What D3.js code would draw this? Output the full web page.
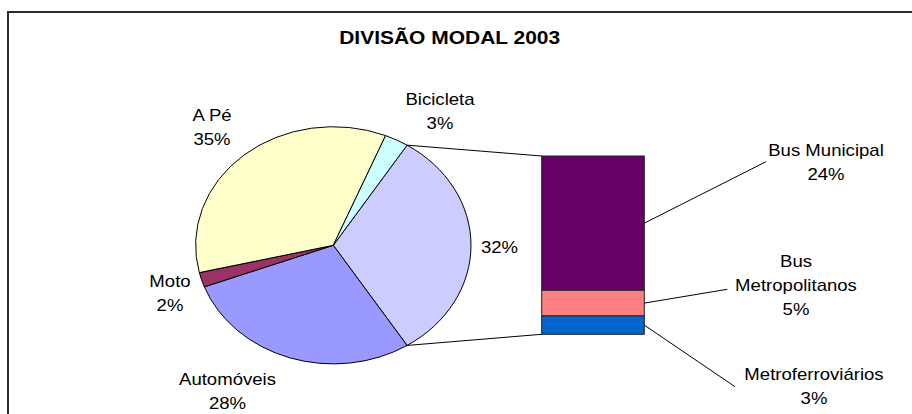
<!DOCTYPE html>
<html lang="pt">
<head>
<meta charset="UTF-8">
<title>Divisão modal 2003</title>
<style>
  * { margin: 0; padding: 0; }
  html, body { width: 912px; height: 414px; overflow: hidden; background: #fff; }
  text { font-family: "Liberation Sans", Arial, sans-serif; fill: #000; }
</style>
</head>
<body>
<script src="https://cdn.jsdelivr.net/npm/d3@7"></script>
<script>
  // dados do gráfico (valores em %)
  const pieNames  = ['Outros', 'Automóveis', 'Moto', 'A Pé', 'Bicicleta']
  const pieValues = [32, 28.3, 2.0, 34.9, 2.8]
  const pieColors = ['#CCCCFF', '#9999FF', '#993366', '#FFFFCC', '#CCFFFF']

  const barNames  = ['Bus Municipal', 'Bus Metropolitanos', 'Metroferroviários']
  const barValues = [24.1, 4.6, 3.3]
  const barColors = ['#660066', '#FF8080', '#0066CC']

  const title = 'DIVISÃO MODAL 2003'

  // layout
  const W = 912, H = 414
  const cx = 333.3, cy = 245.3, rx = 137.7, ry = 118.6
  const stretch = rx / ry   // o gráfico original está esticado na horizontal
  const bar = { x0: 541.7, x1: 644.3, top: 156, bottom: 334.3 }
  const lineH = 24

  // onde fica cada rótulo (centro do bloco de texto)
  const pieLabelPos = {
    'Outros':     [499.5, 247.3, false],
    'Automóveis': [227.5, 391, true],
    'Moto':       [170, 293.3, true],
    'A Pé':       [212, 126.7, true],
    'Bicicleta':  [440, 111, true]
  }
  const barLabelPos = {
    'Bus Municipal':      { xy: [826, 162], lines: ['Bus Municipal'], lead: [766, 161.7] },
    'Bus Metropolitanos': { xy: [796, 285.5], lines: ['Bus', 'Metropolitanos'], lead: [727.3, 289.3] },
    'Metroferroviários':  { xy: [814, 386], lines: ['Metroferroviários'], lead: [735, 386.7] }
  }

  const pct = v => Math.round(v) + '%'

  const svg = d3.select('body').append('svg').attr('width', W).attr('height', H)

  // moldura
  svg.append('rect').attr('x', 8).attr('y', 12).attr('width', W + 20).attr('height', H + 20)
    .attr('fill', '#fff').attr('stroke', '#2b2b2b').attr('stroke-width', 2)

  svg.append('text').attr('x', 449.7).attr('y', 43.5).attr('text-anchor', 'middle')
    .style('font-size', '18px').style('font-weight', 'bold')
    .attr('textLength', 221).attr('lengthAdjust', 'spacingAndGlyphs')
    .text(title)

  // pizza
  const total = d3.sum(pieValues)
  const start = Math.PI / 2 - (pieValues[0] / total) * Math.PI
  const pie = d3.pie().sort(null).startAngle(start).endAngle(start + 2 * Math.PI)
  const arcs = pie(pieValues)
  const arc = d3.arc().innerRadius(0).outerRadius(ry)

  const gPie = svg.append('g').attr('transform', `translate(${cx},${cy}) scale(${stretch},1)`)
  gPie.selectAll('path').data(arcs).join('path')
    .attr('d', arc)
    .attr('fill', (d, i) => pieColors[i])
    .attr('stroke', '#000').attr('stroke-width', 1)
    .attr('vector-effect', 'non-scaling-stroke')

  // pontos da borda da fatia agregada
  const edge = a => [cx + rx * Math.sin(a), cy - ry * Math.cos(a)]
  const pTop = edge(arcs[0].startAngle)
  const pBot = edge(arcs[0].endAngle)

  // barra empilhada, primeiro item em cima
  const barTotal = d3.sum(barValues)
  const y = d3.scaleLinear().domain([0, barTotal]).range([bar.bottom, bar.top])
  let acc = 0
  const stacked = barValues.map((v, i) => {
    const s = { name: barNames[i], v, y1: barTotal - acc, y0: barTotal - acc - v, color: barColors[i] }
    acc += v
    return s
  })

  svg.append('line').attr('x1', pTop[0]).attr('y1', pTop[1]).attr('x2', bar.x0).attr('y2', y(barTotal))
    .attr('stroke', '#000').attr('stroke-width', 1)
  svg.append('line').attr('x1', pBot[0]).attr('y1', pBot[1]).attr('x2', bar.x0).attr('y2', y(0))
    .attr('stroke', '#000').attr('stroke-width', 1)

  svg.append('g').selectAll('rect').data(stacked).join('rect')
    .attr('x', bar.x0).attr('width', bar.x1 - bar.x0)
    .attr('y', d => y(d.y1)).attr('height', d => y(d.y0) - y(d.y1))
    .attr('fill', d => d.color).attr('stroke', '#222').attr('stroke-width', 1)

  // linhas de chamada
  svg.append('g').selectAll('line').data(stacked).join('line')
    .attr('x1', bar.x1).attr('y1', d => (y(d.y0) + y(d.y1)) / 2)
    .attr('x2', d => barLabelPos[d.name].lead[0]).attr('y2', d => barLabelPos[d.name].lead[1])
    .attr('stroke', '#000').attr('stroke-width', 1)

  function label (x, yc, lines) {
    const n = lines.length
    const b1 = yc - (n * lineH) / 2 + lineH / 2 + 6
    const t = svg.append('g').attr('transform', `translate(${x},0) scale(${stretch},1)`)
      .append('text').attr('text-anchor', 'middle').style('font-size', '16px')
    lines.forEach((l, i) => {
      t.append('tspan').attr('x', 0).attr('y', b1 + i * lineH).text(l)
    })
  }

  pieNames.forEach((n, i) => {
    const [x, yc, named] = pieLabelPos[n]
    label(x, yc, named ? [n, pct(pieValues[i])] : [pct(pieValues[i])])
  })
  stacked.forEach(d => {
    const p = barLabelPos[d.name]
    label(p.xy[0], p.xy[1], p.lines.concat([pct(d.v)]))
  })
</script>
</body>
</html>
